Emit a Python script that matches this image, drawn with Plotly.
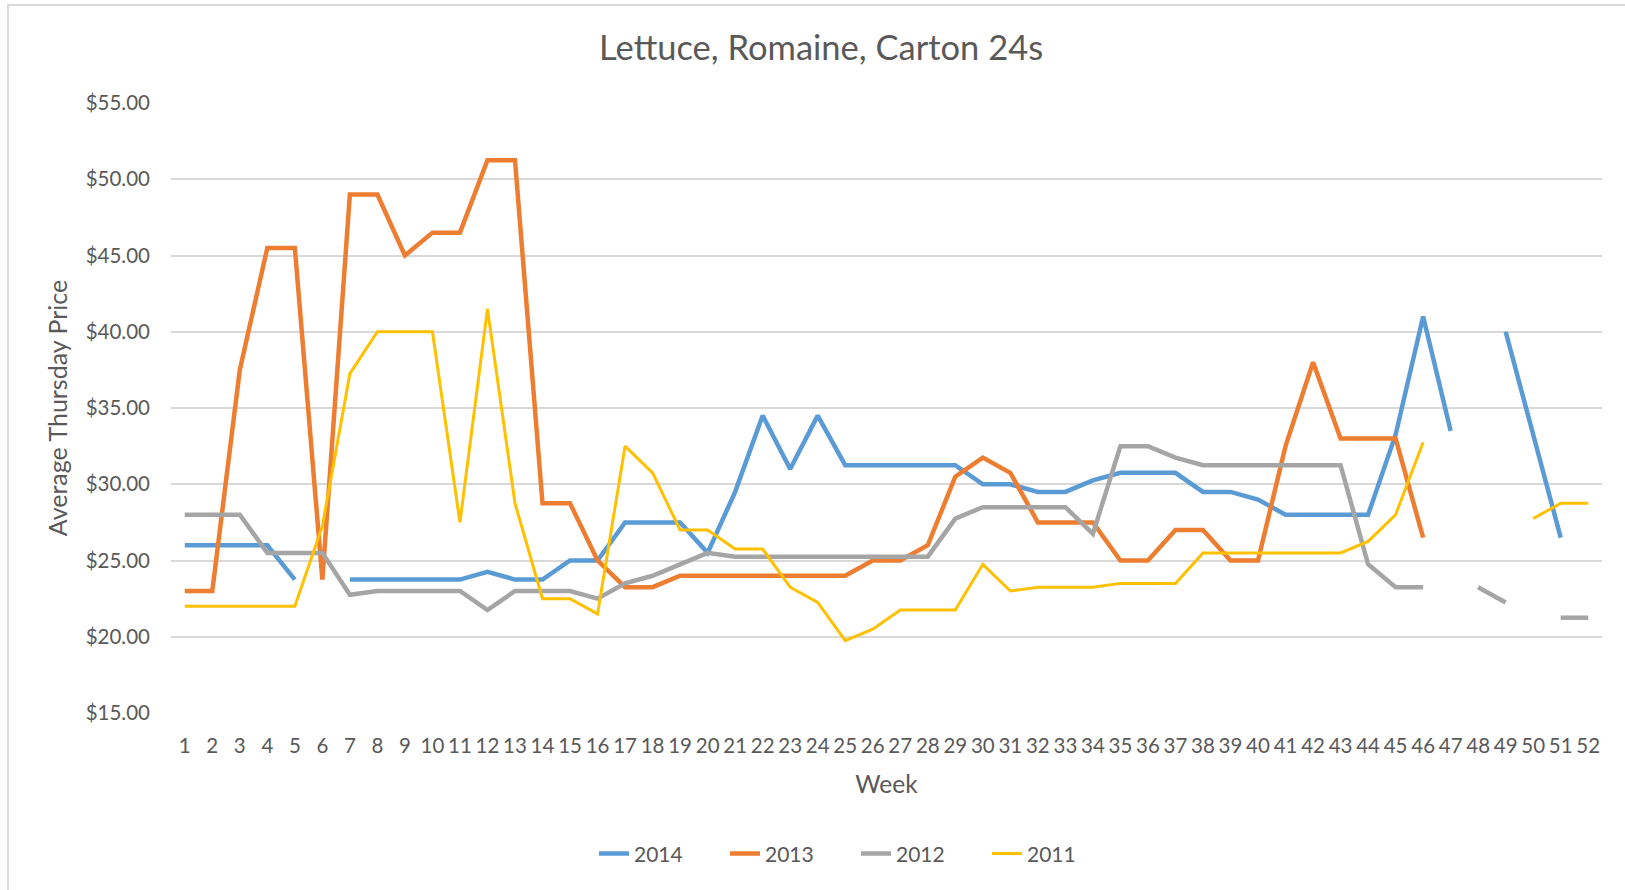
import plotly.graph_objects as go

# weekly average Thursday price, romaine carton 24s
weeks = list(range(1, 53))
week_labels = [str(w) for w in weeks]

p2014 = [26.0, 26.0, 26.0, 26.0, 23.75, None, 23.75, 23.75, 23.75, 23.75,
         23.75, 24.25, 23.75, 23.75, 25.0, 25.0, 27.5, 27.5, 27.5, 25.5,
         29.5, 34.5, 31.0, 34.5, 31.25, 31.25, 31.25, 31.25, 31.25, 30.0,
         30.0, 29.5, 29.5, 30.25, 30.75, 30.75, 30.75, 29.5, 29.5, 29.0,
         28.0, 28.0, 28.0, 28.0, 33.25, 41.0, 33.5, None, 40.0, 33.25,
         26.5, None]
p2013 = [23.0, 23.0, 37.5, 45.5, 45.5, 23.75, 49.0, 49.0, 45.0, 46.5,
         46.5, 51.25, 51.25, 28.75, 28.75, 25.0, 23.25, 23.25, 24.0, 24.0,
         24.0, 24.0, 24.0, 24.0, 24.0, 25.0, 25.0, 26.0, 30.5, 31.75,
         30.75, 27.5, 27.5, 27.5, 25.0, 25.0, 27.0, 27.0, 25.0, 25.0,
         32.5, 38.0, 33.0, 33.0, 33.0, 26.5, None, None, None, None,
         None, None]
p2012 = [28.0, 28.0, 28.0, 25.5, 25.5, 25.5, 22.75, 23.0, 23.0, 23.0,
         23.0, 21.75, 23.0, 23.0, 23.0, 22.5, 23.5, 24.0, 24.75, 25.5,
         25.25, 25.25, 25.25, 25.25, 25.25, 25.25, 25.25, 25.25, 27.75, 28.5,
         28.5, 28.5, 28.5, 26.75, 32.5, 32.5, 31.75, 31.25, 31.25, 31.25,
         31.25, 31.25, 31.25, 24.75, 23.25, 23.25, None, 23.25, 22.25, None,
         21.25, 21.25]
p2011 = [22.0, 22.0, 22.0, 22.0, 22.0, 27.25, 37.25, 40.0, 40.0, 40.0,
         27.5, 41.5, 28.75, 22.5, 22.5, 21.5, 32.5, 30.75, 27.0, 27.0,
         25.75, 25.75, 23.25, 22.25, 19.75, 20.5, 21.75, 21.75, 21.75, 24.75,
         23.0, 23.25, 23.25, 23.25, 23.5, 23.5, 23.5, 25.5, 25.5, 25.5,
         25.5, 25.5, 25.5, 26.25, 28.0, 32.75, None, None, None, 27.75,
         28.75, 28.75]

series = [
    ("2014", p2014, "#5B9BD5", 4.5),
    ("2013", p2013, "#ED7D31", 4.5),
    ("2012", p2012, "#A5A5A5", 4.5),
    ("2011", p2011, "#FFC000", 3),
]

fig = go.Figure()
for name, vals, col, w in series:
    fig.add_trace(go.Scatter(x=weeks, y=vals, name=name, mode="lines",
                             line=dict(color=col, width=w),
                             connectgaps=False))

grey = "#595959"
fig.update_layout(
    width=1625, height=890,
    margin=dict(l=171, r=23, t=103, b=177),
    paper_bgcolor="white", plot_bgcolor="white",
    font=dict(family="Lato", color=grey, size=20.5),
    title=dict(text="Lettuce, Romaine, Carton 24s", font=dict(size=34.5, color=grey),
               x=0.4543, xref="paper", xanchor="center",
               y=1 - 47.5 / 890, yref="container", yanchor="middle"),
    showlegend=True,
    legend=dict(orientation="h", x=0.2956, xanchor="left", y=-0.231, yanchor="middle",
                entrywidth=86, font=dict(size=21, color=grey)),
    xaxis=dict(range=[0.5, 52.5], tickvals=weeks, ticktext=week_labels, tickangle=0,
               showgrid=False, zeroline=False, showline=False, ticks="",
               ticklabelstandoff=18,
               title=dict(text="Week", font=dict(size=24.5, color=grey), standoff=20)),
    yaxis=dict(range=[15, 55], dtick=5, tickprefix="$", tickformat=".2f",
               showgrid=True, gridcolor="#D9D9D9", gridwidth=1.5,
               zeroline=False, showline=False, ticks="", ticklabelstandoff=20,
               title=dict(text="Average Thursday Price", font=dict(size=25, color=grey),
                          standoff=10)),
    # chart-area border, cut off at right and bottom like the source screenshot
    shapes=[dict(type="rect", xref="paper", yref="paper",
                 x0=-0.1139, x1=1.2, y0=-0.6, y1=1.1607,
                 line=dict(color="#D9D9D9", width=2), layer="below")],
)

fig.write_html("out.html", config={"displayModeBar": False},
               post_script="document.body.style.margin='0';")
